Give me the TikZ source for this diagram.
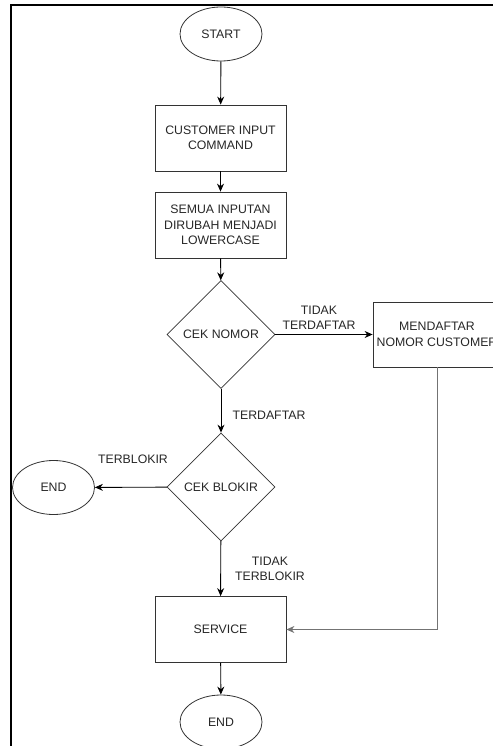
\documentclass[tikz,border=0pt]{standalone}
\usepackage{fontspec}
\setmainfont{Liberation Sans}
\usetikzlibrary{shapes.geometric,arrows.meta}
\begin{document}
\begin{tikzpicture}[x=1pt,y=-1pt,
  every node/.style={font=\fontsize{12.3}{15.5}\selectfont, text=black!85, align=center},
  term/.style={draw=black!80, line width=0.8pt, ellipse, minimum width=82pt, minimum height=54pt, inner sep=0pt},
  procbox/.style={draw=black!80, line width=0.8pt, rectangle, minimum width=131pt, minimum height=66pt, inner sep=0pt},
  decide/.style={draw=black!80, line width=0.8pt, diamond, minimum width=108pt, minimum height=108pt, inner sep=0pt},
  flow/.style={draw=black, line width=0.9pt, -{Stealth[length=8pt,width=7pt]}},
  lbl/.style={inner sep=0pt}
]
\useasboundingbox (0,0) rectangle (492,746);
\draw[line width=1.6pt] (11,760) -- (11,5) -- (505,5);

\node[term] (start) at (221,34) {START};
\node[procbox] (input) at (220.5,138) {CUSTOMER INPUT\\COMMAND};
\node[procbox] (lower) at (220.5,225) {SEMUA INPUTAN\\DIRUBAH MENJADI\\LOWERCASE};
\node[decide] (nomor) at (221,334.5) {CEK NOMOR};
\node[draw=black!80, line width=0.8pt, rectangle, minimum width=128pt, minimum height=65pt, inner sep=0pt] (daftar) at (437,334.5) {MENDAFTAR\\NOMOR CUSTOMER};
\node[decide] (blokir) at (221,487) {CEK BLOKIR};
\node[term] (endL) at (53.5,487.5) {END};
\node[procbox] (service) at (220.5,629.5) {SERVICE};
\node[term] (endB) at (221,722) {END};

\draw[flow] (start) -- (input);
\draw[flow] (input) -- (lower);
\draw[flow] (lower) -- (nomor);
\draw[flow] (nomor) -- (daftar);
\draw[flow] (nomor) -- (blokir);
\draw[flow] (blokir) -- (endL);
\draw[flow] (blokir) -- (service);
\draw[flow] (service) -- (endB);
\draw[draw=black!55, line width=0.9pt, -{Stealth[length=8pt,width=7pt]}] (daftar.south) |- (service.east);

\node[lbl] (l1) at (319,318) {TIDAK\\TERDAFTAR};
\node[lbl] (l2) at (269,415) {TERDAFTAR};
\node[lbl] (l3) at (133,459) {TERBLOKIR};
\node[lbl] (l4) at (270,569) {TIDAK\\TERBLOKIR};
\end{tikzpicture}
\end{document}
